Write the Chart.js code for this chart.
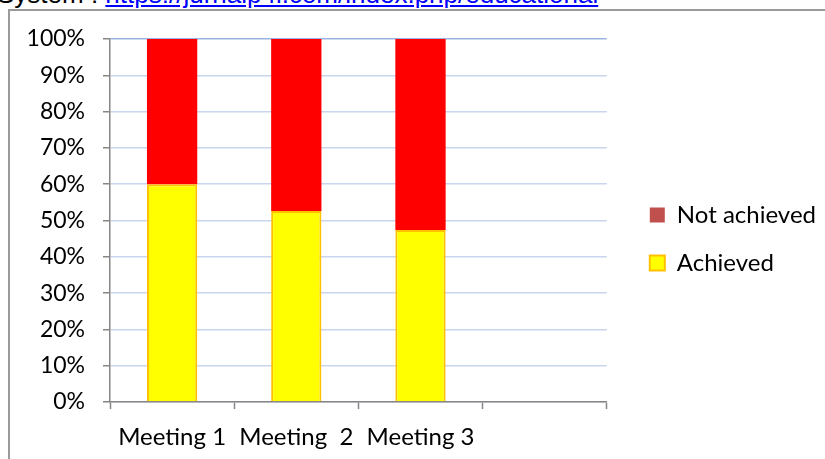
<!DOCTYPE html>
<html>
<head>
  <meta charset="UTF-8">
  <title>Meeting results</title>
  <style>
    body { margin: 0; background: #fff; overflow: hidden; }
    #wrap { position: relative; width: 825px; height: 459px; overflow: hidden; }
    #source { position: absolute; left: -3px; top: -21px; font: 26px "Liberation Sans", Arial, sans-serif; white-space: nowrap; color: #000; }
    #source a { color: #0000ff; text-decoration: underline; }
    #frame { position: absolute; left: 8px; top: 9px; width: 900px; height: 500px; border-left: 2px solid #9a9a9a; border-top: 2px solid #9a9a9a; }
    #chart { position: absolute; left: 0; top: 0; }
  </style>
</head>
<body>
  <div id="wrap">
    <div id="source">System : <a href="#">https://jurnalp4i.com/index.php/educational</a></div>
    <div id="frame"></div>
    <canvas id="chart" width="825" height="459"></canvas>
  </div>

  <script src="https://cdn.jsdelivr.net/npm/chart.js"></script>
  <script>
    const meetings     = ['Meeting 1', 'Meeting  2', 'Meeting 3', ''];
    const achieved     = [60, 52.6, 47.4, null];
    const notAchieved  = [40, 47.4, 52.6, null];
    const yTicks       = [0, 10, 20, 30, 40, 50, 60, 70, 80, 90, 100];

    const font = '"Lato", "Open Sans", sans-serif';
    const axisGray = '#868686';
    const legendGap = 19;    // extra room between plot and legend
    const legendShift = -10; // nudge legend items up

    // widen the legend box without moving its items
    const legendGapPlugin = {
      id: 'legendGap',
      beforeLayout(chart) {
        const lg = chart.legend;
        if (!lg || lg._gapPatched) return;
        const fit = lg.fit, draw = lg.draw;
        lg.fit = function () { fit.call(this); this.width += legendGap; };
        lg.draw = function () {
          this.left += legendGap; this.top += legendShift; this.bottom += legendShift;
          draw.call(this);
          this.left -= legendGap; this.top -= legendShift; this.bottom -= legendShift;
        };
        lg._gapPatched = true;
      }
    };

    const chart = new Chart(document.getElementById('chart').getContext('2d'), {
      type: 'bar',
      data: {
        labels: meetings,
        datasets: [
          {
            label: 'Achieved',
            data: achieved,
            backgroundColor: '#ffff00',
            borderColor: '#ffc000',
            borderWidth: 2,
            order: 1
          },
          {
            label: 'Not achieved',
            data: notAchieved,
            backgroundColor: '#ff0000',
            borderWidth: 0,
            order: 2
          }
        ]
      },
      options: {
        responsive: false,
        animation: false,
        layout: { padding: { top: 39, bottom: 0, right: -1, left: 0 } },
        datasets: { bar: { barPercentage: 0.81, categoryPercentage: 0.5 } },
        scales: {
          x: {
            stacked: true,
            offset: true,
            afterFit: s => { s.height = 57; },
            grid: { offset: true, drawOnChartArea: false, tickLength: 7, tickColor: axisGray, tickWidth: 1.5 },
            border: { color: axisGray, width: 1.5 },
            ticks: { color: '#000', font: { family: font, size: 24 }, padding: 14, maxRotation: 0, autoSkip: false }
          },
          y: {
            stacked: true,
            min: 0,
            max: 100,
            afterFit: s => { s.width = 110; },
            afterBuildTicks: s => { s.ticks = yTicks.map(v => ({ value: v })); },
            grid: {
              color: c => c.tick && c.tick.value === 100 ? '#9bb3e0' : '#c8d5ee',
              lineWidth: 1.5,
              tickLength: 7,
              tickColor: axisGray,
              tickWidth: 1.5
            },
            border: { color: axisGray, width: 1.5 },
            ticks: { color: '#000', font: { family: font, size: 23 }, padding: 18, callback: v => v + '%' }
          }
        },
        plugins: {
          tooltip: { enabled: false },
          legend: {
            position: 'right',
            reverse: true,
            labels: {
              color: '#000',
              font: { family: font, size: 24 },
              boxWidth: 15,
              boxHeight: 15,
              padding: 24,
              generateLabels: ch => ch.data.datasets.map((ds, i) => ({
                text: ds.label,
                fillStyle: i === 0 ? '#ffff00' : '#c0504d',
                strokeStyle: i === 0 ? '#ffc000' : '#c0504d',
                lineWidth: i === 0 ? 2 : 0,
                datasetIndex: i
              }))
            }
          }
        }
      },
      plugins: [legendGapPlugin]
    });
  </script>
</body>
</html>
